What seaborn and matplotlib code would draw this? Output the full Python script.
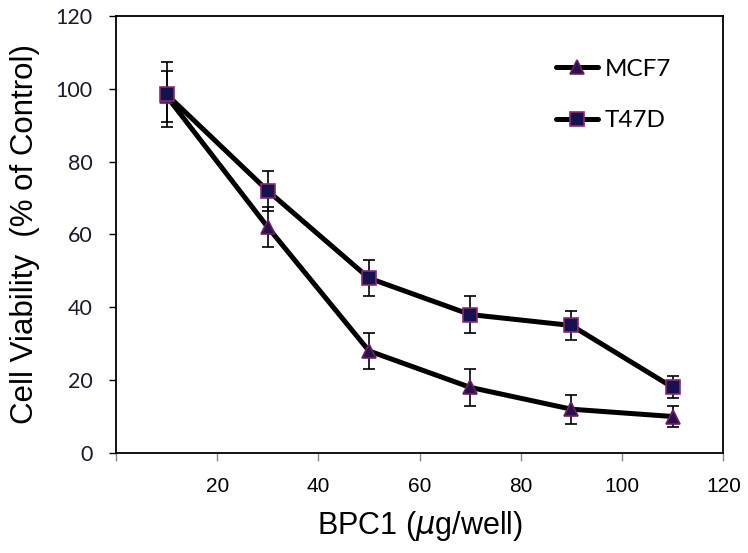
import numpy as np
import pandas as pd
import matplotlib
matplotlib.use('Agg')
import matplotlib.pyplot as plt
import seaborn as sns

# dose (ug/well) and viability
dose = [10, 30, 50, 70, 90, 110]
mcf7 = [98, 62, 28, 18, 12, 10]
mcf7_err = [7, 5.5, 5, 5, 4, 3]
t47d = [98.5, 72, 48, 38, 35, 18]
t47d_err = [9, 5.5, 5, 5, 4, 3]

x_ticks = [0, 20, 40, 60, 80, 100, 120]
x_ticklabels = ['', '20', '40', '60', '80', '100', '120']
y_ticks = [0, 20, 40, 60, 80, 100, 120]

df = pd.DataFrame({
    'dose': dose * 2,
    'viability': mcf7 + t47d,
    'err': mcf7_err + t47d_err,
    'line': ['MCF7'] * len(dose) + ['T47D'] * len(dose),
})

sns.set_style('ticks')
plt.rcParams['font.family'] = ['Liberation Sans', 'DejaVu Sans']
plt.rcParams['text.color'] = 'black'
plt.rcParams['axes.labelcolor'] = 'black'

fig = plt.figure(figsize=(7.48, 5.53), dpi=100)
ax = fig.add_axes([0.155, 0.181, 0.812, 0.790])

styles = {
    'MCF7': dict(marker='^', mfc='#2a0f4f', mec='#6b1f5f'),
    'T47D': dict(marker='s', mfc='#16124f', mec='#8a2a70'),
}

for name, sub in df.groupby('line'):
    ax.errorbar(sub['dose'], sub['viability'], yerr=sub['err'], fmt='none',
                ecolor='black', elinewidth=1.2, capsize=4.5, capthick=1.2, zorder=2)
    sns.lineplot(data=sub, x='dose', y='viability', ax=ax, color='black',
                 linewidth=3.6, markersize=9.5, markeredgewidth=1.2,
                 label=name, zorder=3, **styles[name])

ax.set_xlim(0, 120)
ax.set_ylim(0, 120)
ax.set_xticks(x_ticks)
ax.set_xticklabels(x_ticklabels, fontsize=15, family='Liberation Sans', color='black')
ax.set_yticks(y_ticks)
ax.set_yticklabels([str(v) for v in y_ticks], fontsize=15.5, family='Lato', color='#1a1a2a')

ax.tick_params(axis='y', direction='out', length=5, width=1, color='black', pad=12)
ax.tick_params(axis='x', direction='out', length=6, width=1, color='#888888', pad=11)
for s in ax.spines.values():
    s.set_linewidth(1.3)
    s.set_color('black')

ax.set_xlabel('BPC1 ($\\mathit{\\mu}$g/well)', fontsize=22, labelpad=10)
ax.set_ylabel('Cell Viability  (% of Control)', fontsize=22.5, labelpad=11)

leg = ax.legend(loc='upper left', bbox_to_anchor=(0.705, 0.93), frameon=False,
                borderpad=0, handlelength=1.7, handletextpad=0.3, labelspacing=1.25,
                prop={'family': 'Lato', 'size': 17.5}, numpoints=1)

fig.savefig('out.png', dpi=100)
